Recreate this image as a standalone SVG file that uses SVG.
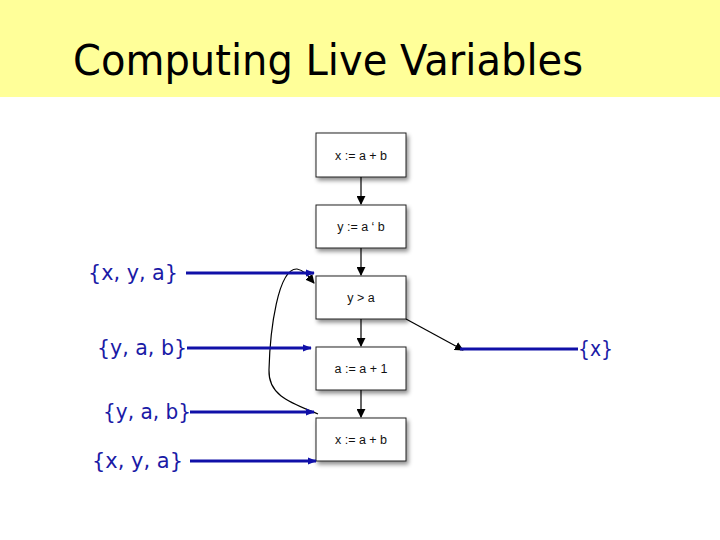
<svg xmlns="http://www.w3.org/2000/svg" width="720" height="540" viewBox="0 0 720 540">
<style>
.box{fill:#fff;stroke:#222;stroke-width:1;filter:url(#sh)}
.bt{font-family:"Liberation Sans",Arial,sans-serif;font-size:12.5px;fill:#111;text-anchor:middle}
.lbl{font-family:"DejaVu Sans",Verdana,sans-serif;font-size:21px;fill:#1a1aa6}
.blue{stroke:#1010a8;stroke-width:3;fill:none}
.blk{stroke:#000;stroke-width:1.2;fill:none}
</style>
<defs>
<filter id="sh" x="-20%" y="-20%" width="150%" height="160%">
<feDropShadow dx="2" dy="3" stdDeviation="2" flood-color="#000" flood-opacity="0.45"/>
</filter>
<marker id="ab" viewBox="0 0 10 10" refX="9" refY="5" markerWidth="9" markerHeight="9" markerUnits="userSpaceOnUse" orient="auto">
<path d="M0,0 L10,5 L0,10 z" fill="#000"/>
</marker>
<marker id="au" viewBox="0 0 10 10" refX="9" refY="5" markerWidth="9" markerHeight="9" markerUnits="userSpaceOnUse" orient="auto">
<path d="M0,1 L10,5 L0,9 z" fill="#1010a8"/>
</marker>
</defs>
<rect x="0" y="0" width="720" height="97" fill="#ffff99"/>
<text x="73" y="75" font-family="DejaVu Sans,Verdana,sans-serif" font-size="42" fill="#000" textLength="510" lengthAdjust="spacingAndGlyphs">Computing Live Variables</text>

<g id="n1"><rect class="box" x="316" y="133" width="90" height="44"/><text class="bt" x="361" y="160">x := a + b</text></g>
<g id="n2"><rect class="box" x="316" y="205" width="90" height="43"/><text class="bt" x="361" y="231">y := a ‘ b</text></g>
<g id="n3"><rect class="box" x="316" y="276" width="90" height="43"/><text class="bt" x="361" y="302">y &gt; a</text></g>
<g id="n4"><rect class="box" x="316" y="347" width="90" height="43"/><text class="bt" x="361" y="373">a := a + 1</text></g>
<g id="n5"><rect class="box" x="316" y="418" width="90" height="43"/><text class="bt" x="361" y="444">x := a + b</text></g>

<g id="labels">
<text class="lbl" x="88" y="280" textLength="90" lengthAdjust="spacingAndGlyphs">{x, y, a}</text>
<text class="lbl" x="97" y="355" textLength="90" lengthAdjust="spacingAndGlyphs">{y, a, b}</text>
<text class="lbl" x="103" y="419" textLength="88" lengthAdjust="spacingAndGlyphs">{y, a, b}</text>
<text class="lbl" x="92" y="468" textLength="91" lengthAdjust="spacingAndGlyphs">{x, y, a}</text>
<text class="lbl" x="578" y="356" textLength="35" lengthAdjust="spacingAndGlyphs">{x}</text>
</g>

<g id="connectors">
<line class="blk" x1="361" y1="177" x2="361" y2="204" marker-end="url(#ab)"/>
<line class="blk" x1="361" y1="248" x2="361" y2="275" marker-end="url(#ab)"/>
<line class="blk" x1="361" y1="319" x2="361" y2="346" marker-end="url(#ab)"/>
<line class="blk" x1="361" y1="390" x2="361" y2="417" marker-end="url(#ab)"/>
<line class="blk" x1="406" y1="319" x2="463" y2="350" marker-end="url(#ab)"/>
<path class="blk" d="M318 414 C292 403 268 396 269 370 C270 330 278 268 297 269 C304 270 309 277 314 283" marker-end="url(#ab)"/>
<line class="blue" x1="186" y1="273" x2="314" y2="273" marker-end="url(#au)"/>
<line class="blue" x1="187" y1="348" x2="311" y2="348" marker-end="url(#au)"/>
<line class="blue" x1="190" y1="412" x2="314" y2="412" marker-end="url(#au)"/>
<line class="blue" x1="190" y1="461" x2="316" y2="461" marker-end="url(#au)"/>
<line class="blue" x1="460" y1="349" x2="578" y2="349"/>
</g>
</svg>
